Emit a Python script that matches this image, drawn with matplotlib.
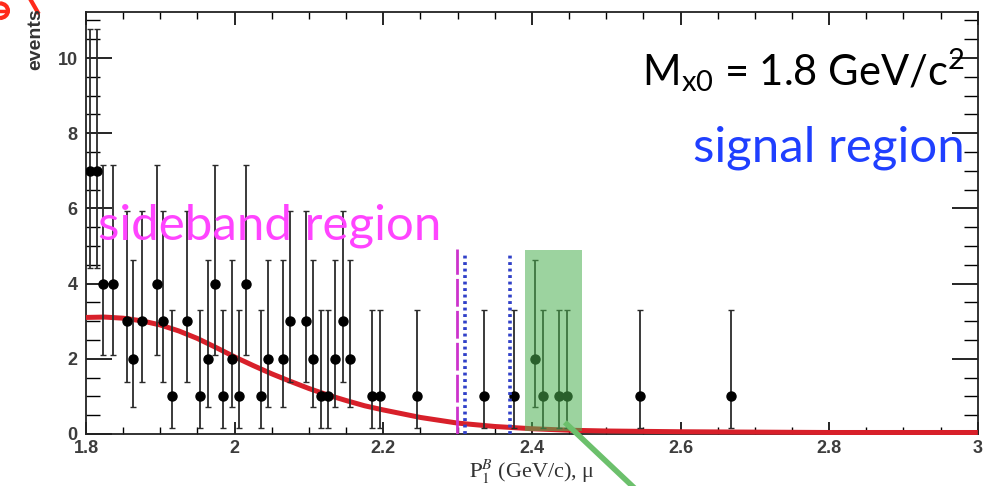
import matplotlib
matplotlib.use("Agg")
import matplotlib.pyplot as plt
from matplotlib.ticker import MultipleLocator, FixedLocator
from matplotlib.patches import Rectangle, Arc

plt.rcParams["mathtext.fontset"] = "custom"
plt.rcParams["mathtext.rm"] = "Lato"
plt.rcParams["mathtext.it"] = "Lato:italic"
plt.rcParams["mathtext.bf"] = "Lato:bold"

# data points (momentum, counts)
p_vals = [1.805, 1.815,
          1.823, 1.836, 1.896, 1.974, 2.015,
          1.855, 1.875, 1.904, 1.936, 2.075, 2.096, 2.146,
          1.863, 1.964, 1.997, 2.045, 2.065, 2.106, 2.135, 2.155, 2.404,
          1.916, 1.953, 1.984, 2.006, 2.036, 2.116, 2.126, 2.185, 2.196,
          2.245, 2.336, 2.376, 2.415, 2.437, 2.447, 2.546, 2.668]
counts = [7, 7,
          4, 4, 4, 4, 4,
          3, 3, 3, 3, 3, 3, 3,
          2, 2, 2, 2, 2, 2, 2, 2, 2,
          1, 1, 1, 1, 1, 1, 1, 1, 1,
          1, 1, 1, 1, 1, 1, 1, 1]
err_low = {1: 0.83, 2: 1.29, 3: 1.63, 4: 1.91, 7: 2.58}
err_high = {1: 2.30, 2: 2.64, 3: 2.92, 4: 3.16, 7: 3.77}

# fitted background curve
fit_x = [1.80, 1.825, 1.85, 1.875, 1.90, 1.925, 1.95, 1.975, 2.00, 2.025, 2.05, 2.075,
         2.10, 2.125, 2.15, 2.175, 2.20, 2.25, 2.30, 2.35, 2.40, 2.45, 2.50, 2.60,
         2.70, 2.80, 2.90, 3.00]
fit_y = [3.10, 3.11, 3.08, 3.01, 2.90, 2.74, 2.54, 2.30, 2.05, 1.82, 1.60, 1.40,
         1.21, 1.04, 0.89, 0.75, 0.64, 0.44, 0.29, 0.20, 0.14, 0.10, 0.08, 0.06,
         0.05, 0.04, 0.04, 0.04]

x_ticks = [1.8, 2.0, 2.2, 2.4, 2.6, 2.8, 3.0]
x_ticklabels = ["1.8", "2", "2.2", "2.4", "2.6", "2.8", "3"]
y_ticks = [0, 2, 4, 6, 8, 10]

sideband_cut = 2.299
signal_cuts = [2.310, 2.371]
signal_box = (2.391, 2.468)

fig = plt.figure(figsize=(9.92, 4.86), dpi=100)
ax = fig.add_axes([0.0867, 0.107, 0.899, 0.868])

ax.set_xlim(1.8, 3.0)
ax.set_ylim(0, 11.22)

lo = [err_low[c] for c in counts]
hi = [err_high[c] for c in counts]
ax.errorbar(p_vals, counts, yerr=[lo, hi], fmt="o", color="black", ms=6.5,
            ecolor="#2b2b2b", elinewidth=1.3, capsize=2.5, capthick=1.0, zorder=4)

ax.plot(fit_x, fit_y, color="#d8202a", lw=3.6, zorder=3, solid_capstyle="butt",
        clip_on=False)

ax.plot([sideband_cut, sideband_cut], [0, 4.93], color="#cc33cc", lw=2.0,
        dashes=(10, 1.5), zorder=5)
for xc, top in zip(signal_cuts, [4.85, 4.8]):
    ax.plot([xc, xc], [0, top], color="#3040c8", lw=2.6, dashes=(0.8, 1.0), zorder=5)

ax.add_patch(Rectangle((signal_box[0], 0.08), signal_box[1] - signal_box[0], 4.82,
                       facecolor="#4caf50", alpha=0.55, lw=0, zorder=6))
ax.plot([2.447, 2.552], [0.26, -1.7], color="#6cc06c", lw=4, clip_on=False, zorder=7)

# ticks
ax.xaxis.set_major_locator(FixedLocator(x_ticks))
ax.xaxis.set_minor_locator(MultipleLocator(0.05))
ax.yaxis.set_major_locator(FixedLocator(y_ticks))
ax.yaxis.set_minor_locator(MultipleLocator(0.5))
ax.tick_params(axis="y", which="major", direction="in", length=19, width=1.2,
               left=True, right=True, pad=6)
ax.tick_params(axis="y", which="minor", direction="in", length=10, width=1.0,
               left=True, right=True)
ax.tick_params(axis="x", which="major", direction="in", length=9, width=1.2,
               top=True, bottom=True, pad=4)
ax.tick_params(axis="x", which="minor", direction="in", length=5, width=1.0,
               top=True, bottom=True)
ax.set_xticklabels(x_ticklabels)
for lab in ax.get_xticklabels() + ax.get_yticklabels():
    lab.set_fontsize(13)
    lab.set_fontweight("bold")
    lab.set_color("#3c3c3c")
    lab.set_family("Liberation Sans")
for s in ax.spines.values():
    s.set_linewidth(1.3)
    s.set_color("#222222")

ax.set_xlabel(r"$\mathrm{P}_{1}^{B}$ (GeV/c), μ", fontsize=16, family="Liberation Serif",
              math_fontfamily="stix", color="#333333", labelpad=0.5)
fig.text(0.036, 0.982, "events", rotation=90, ha="center", va="top", fontsize=14,
         fontweight="bold", color="#333333", family="Liberation Sans")

ax.text(0.985, 0.827, r"M$_{\mathrm{x0}}$ = 1.8 GeV/c$^{\mathrm{2}}$", transform=ax.transAxes,
        ha="right", va="baseline", fontsize=30, family="Lato", color="black")
ax.text(0.985, 0.645, "signal region", transform=ax.transAxes, ha="right",
        va="baseline", fontsize=35.5, family="Lato", color="#1f3fff")
ax.text(0.013, 0.46, "sideband region", transform=ax.transAxes, ha="left",
        va="baseline", fontsize=35.5, family="Lato", color="#ff44ff", zorder=8)

# fragments of a red annotation cut off at the top-left corner
fig.add_artist(Arc((0.0, 0.978), 0.016, 0.03, theta1=-90, theta2=90,
                   color="#ff2a1a", lw=3, transform=fig.transFigure))
fig.add_artist(plt.Line2D([0.0, 0.007], [0.978, 0.978], color="#ff2a1a", lw=2.5,
                          transform=fig.transFigure))
fig.add_artist(plt.Line2D([0.031, 0.038], [1.0, 0.975], color="#ff2a1a", lw=3,
                          transform=fig.transFigure))

fig.savefig("out.png", dpi=100)
